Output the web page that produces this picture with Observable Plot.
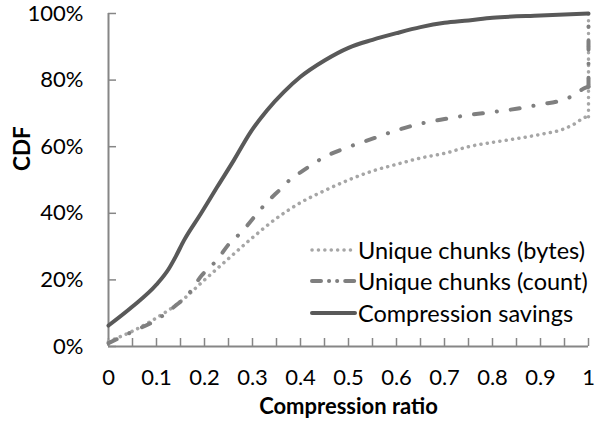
<!DOCTYPE html>
<html><head><meta charset="utf-8">
<script src="https://cdn.jsdelivr.net/npm/d3@7"></script>
<script src="https://cdn.jsdelivr.net/npm/@observablehq/plot@0.6"></script>
<style>
body{margin:0;background:#fff;}
#wrap{position:relative;width:597px;height:425px;font-family:Lato,sans-serif;}
#legend{position:absolute;left:310px;top:234px;font-size:23.5px;color:#000;}
.row{display:flex;align-items:center;height:31.5px;white-space:nowrap;}
.row svg{width:47px;height:10px;margin-right:1px;}
</style></head><body><div id="wrap"><div id="chart"></div><div id="legend"></div></div>
<script>
// Data
const bytesX = [0,0.05,0.1,0.15,0.2,0.25,0.3,0.35,0.4,0.45,0.5,0.55,0.6,0.65,0.7,0.75,0.8,0.85,0.9,0.95,0.975,0.99,1,1];
const bytesY = [0.015,0.046,0.086,0.135,0.2,0.264,0.327,0.385,0.432,0.468,0.5,0.527,0.547,0.566,0.58,0.6,0.613,0.624,0.637,0.654,0.672,0.687,0.69,1.0];
const countX = [0,0.05,0.1,0.14,0.164,0.194,0.226,0.254,0.277,0.303,0.328,0.355,0.384,0.4,0.45,0.5,0.55,0.6,0.65,0.7,0.75,0.8,0.85,0.9,0.95,0.975,0.99,1,1];
const countY = [0.01,0.045,0.08,0.123,0.153,0.213,0.26,0.313,0.343,0.388,0.43,0.468,0.508,0.523,0.569,0.599,0.624,0.649,0.669,0.683,0.695,0.704,0.714,0.727,0.742,0.759,0.775,0.78,1.0];
const savingsX = [0,0.05,0.1,0.125,0.14,0.157,0.192,0.226,0.261,0.296,0.33,0.365,0.4,0.45,0.5,0.55,0.6,0.65,0.7,0.75,0.8,0.9,1];
const savingsY = [0.063,0.12,0.186,0.232,0.27,0.318,0.398,0.478,0.559,0.644,0.709,0.764,0.81,0.859,0.897,0.921,0.941,0.959,0.972,0.979,0.987,0.994,1.0];

const seriesNames = ["Unique chunks (bytes)","Unique chunks (count)","Compression savings"];
const xTicks = [0,0.05,0.1,0.15,0.2,0.25,0.3,0.35,0.4,0.45,0.5,0.55,0.6,0.65,0.7,0.75,0.8,0.85,0.9,0.95,1];
const xTickLabels = [0,0.1,0.2,0.3,0.4,0.5,0.6,0.7,0.8,0.9,1];
const yTicks = [0,0.2,0.4,0.6,0.8,1];
const xLabel = "Compression ratio";
const yLabel = "CDF";

const axisColor = "#868686";
const styles = [
  {stroke:"#a6a6a6", strokeWidth:3.5, strokeDasharray:"0.1,6.3", strokeLinecap:"round"},
  {stroke:"#7f7f7f", strokeWidth:4, strokeDasharray:"9,14,0.1,14", strokeLinecap:"round"},
  {stroke:"#595959", strokeWidth:4, strokeDasharray:null, strokeLinecap:"round"}
];
const toRows = (xs, ys) => xs.map((x,i)=>({x, y: ys[i]}));
const data = [toRows(bytesX,bytesY), toRows(countX,countY), toRows(savingsX,savingsY)];

const lineMarks = [];
data.forEach((rows,i)=>{
  const last = rows[rows.length-1], prev = rows[rows.length-2];
  const hasJump = prev.x === last.x;
  const main = hasJump ? rows.slice(0,-1) : rows;
  lineMarks.push(Plot.line(main, {x:"x", y:"y", curve:"monotone-x", ...styles[i]}));
  if (hasJump) lineMarks.push(Plot.line([prev,last], {x:"x", y:"y", ...styles[i]}));
});

const chart = Plot.plot({
  width:597, height:425,
  marginLeft:108, marginRight:9, marginTop:13, marginBottom:79,
  style:{fontFamily:"Lato, sans-serif", fontSize:"22px", color:"#000", background:"#fff", overflow:"visible"},
  x:{domain:[0,1]},
  y:{domain:[0,1]},
  marks:[
    Plot.axisX(xTicks, {tickSize:8, dy:-8, fill:"none", stroke:axisColor, strokeWidth:1.5, label:null}),
    Plot.axisX(xTickLabels, {tickSize:0, tickPadding:23, stroke:"none", fill:"#000", label:null,
      tickFormat: d => d===0 ? "0" : d===1 ? "1" : d.toFixed(1)}),
    Plot.axisY(yTicks, {tickSize:8, dx:8, fill:"none", stroke:axisColor, strokeWidth:1.5, label:null}),
    Plot.axisY(yTicks, {tickSize:0, tickPadding:25, stroke:"none", fill:"#000", label:null,
      tickFormat: d => Math.round(d*100)+"%"}),
    Plot.ruleX([0], {stroke:axisColor, strokeWidth:2}),
    Plot.ruleY([0], {stroke:axisColor, strokeWidth:2}),
    ...lineMarks,
    Plot.text([yLabel], {frameAnchor:"left", rotate:-90, dx:-86, dy:-9, fontWeight:"bold", fontSize:22.5, fill:"#000"}),
    Plot.text([xLabel], {frameAnchor:"bottom", dy:67, fontWeight:"bold", fontSize:22, fill:"#000"})
  ]
});
document.getElementById("chart").appendChild(chart);

const legend = document.getElementById("legend");
seriesNames.forEach((name,i)=>{
  const row = document.createElement("div");
  row.className = "row";
  const s = styles[i];
  row.innerHTML = `<svg viewBox="0 0 47 10"><line x1="2" y1="5" x2="45" y2="5" stroke="${s.stroke}" stroke-width="${s.strokeWidth}" stroke-linecap="${s.strokeLinecap}" ${s.strokeDasharray?`stroke-dasharray="${i===1?'9,8,0.1,8,0.1,8':s.strokeDasharray}"`:''}/></svg><span>${name}</span>`;
  legend.appendChild(row);
});
</script>
</body></html>
